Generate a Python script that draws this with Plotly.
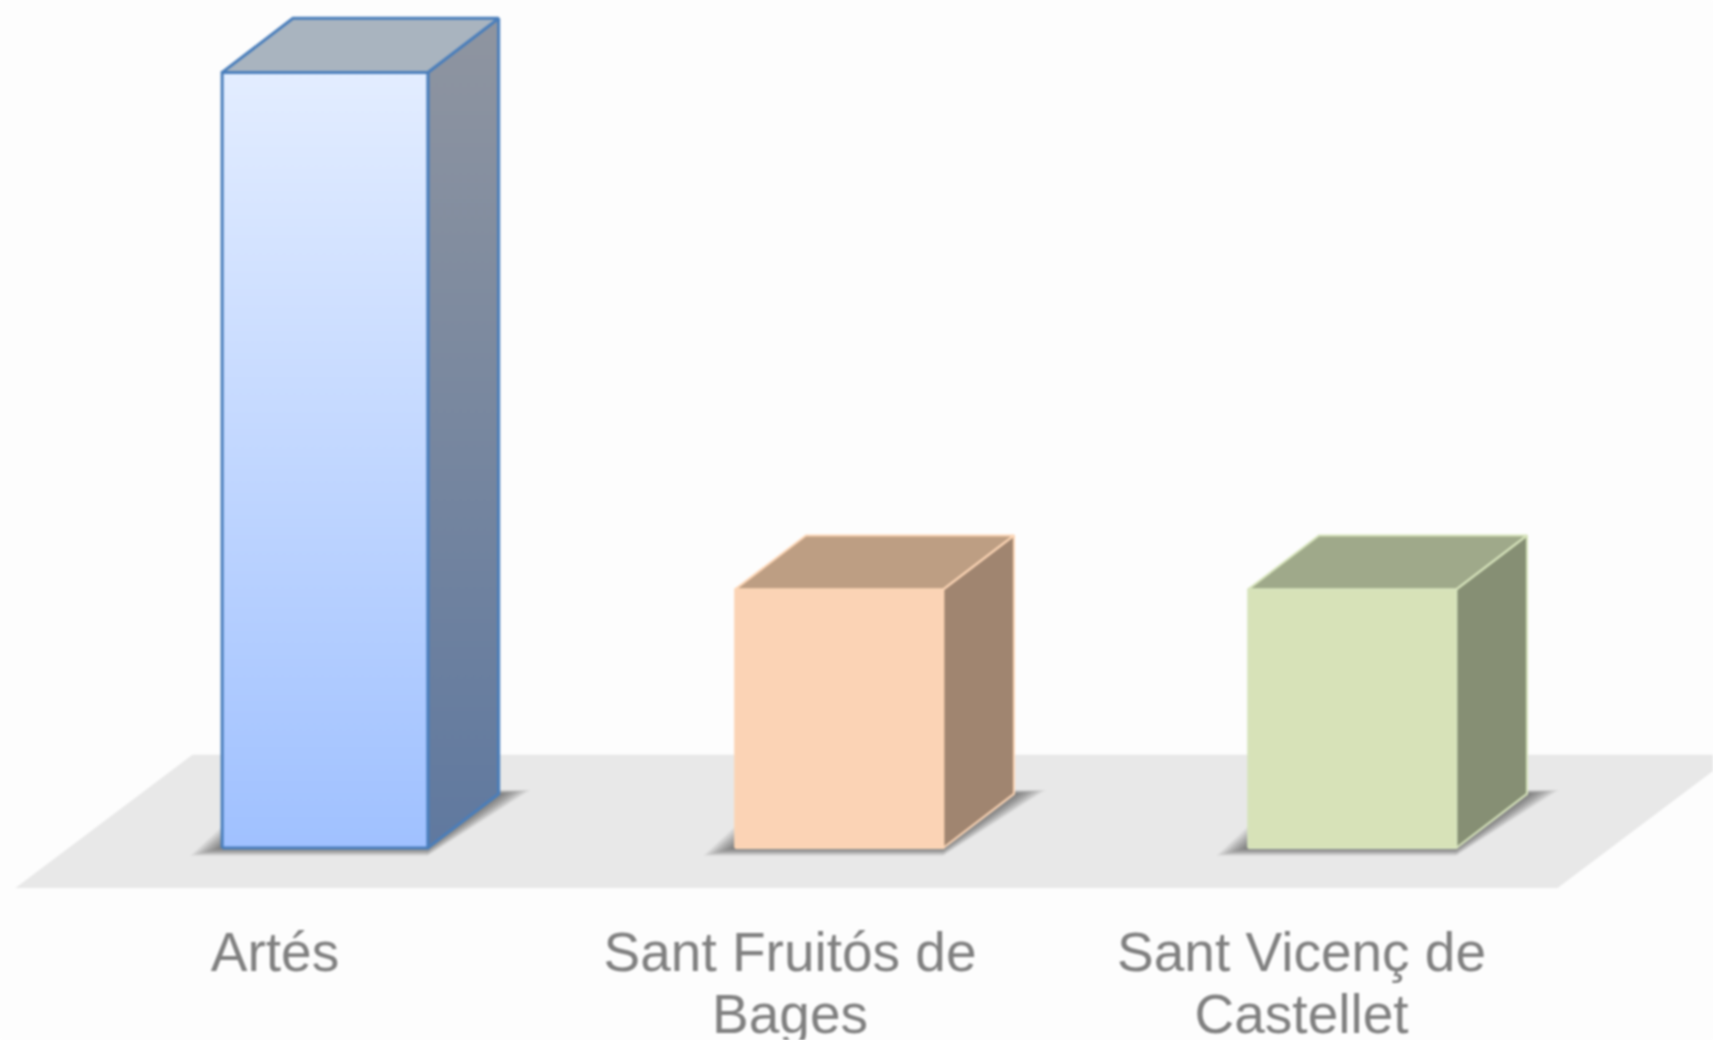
import plotly.graph_objects as go

# --- data ---
categories = ["Artés", "Sant Fruitós de Bages", "Sant Vicenç de Castellet"]
label_line1 = ["Artés", "Sant Fruitós de", "Sant Vicenç de"]
label_line2 = ["", "Bages", "Castellet"]
values = [3, 1, 1]

# --- styles ---
front_top = ["#E3EDFF", "#FBD3B5", "#D7E2B8"]
front_bottom = ["#A0C1FF", "#FBD3B5", "#D7E2B8"]
side_top = ["#8F95A0", "#A08570", "#868F74"]
side_bottom = ["#60799F", "#A08570", "#868F74"]
top_face = ["#A9B4BF", "#BD9E83", "#9FA98A"]
edge = ["#4A7EBB", "#FCD5B5", "#D7E4BC"]
edge_w = [3, 2, 2]
TEXT = "#808080"
BG = "#FDFDFD"
FLOOR = "#E8E8E8"

# geometry in axis units
X_LEFT = -0.103                     # front face relative to category position
BAR_W = [0.401, 0.4055, 0.4055]
DX, DY = 0.138, 0.209               # depth offset of bars
FLOOR_X0, FLOOR_X1 = -0.506, 2.5
FLOOR_Y0, FLOOR_DX, FLOOR_Y1 = -0.155, 0.345, 0.36
X_RANGE = [-0.536, 2.803]
Y_RANGE = [-0.155, 3.28]
LABEL_NUDGE = [0.0, 0.004, 0.001]

fig = go.Figure()


def poly(xs, ys, **kw):
    fig.add_trace(go.Scatter(x=xs + xs[:1], y=ys + ys[:1], mode="lines", fill="toself",
                             hoverinfo="skip", showlegend=False, **kw))


# floor
poly([FLOOR_X0, FLOOR_X1, FLOOR_X1 + FLOOR_DX, FLOOR_X0 + FLOOR_DX],
     [FLOOR_Y0, FLOOR_Y0, FLOOR_Y1, FLOOR_Y1],
     fillcolor=FLOOR, line=dict(width=0))

# soft shadows: stacked translucent layers
LAYERS = 12
for i, v in enumerate(values):
    l, r = i + X_LEFT, i + X_LEFT + BAR_W[i]
    for k in range(LAYERS):
        t = 1 - k / LAYERS
        ex, ey = 0.062 * t, 0.030 * t
        poly([l - ex, r, r + DX + ex, l + DX - ex],
             [-ey, -ey, DY + ey * 0.5, DY + ey * 0.5],
             fillcolor="rgba(40,40,40,0.06)", line=dict(width=0))

# bars
for i, v in enumerate(values):
    l, r = i + X_LEFT, i + X_LEFT + BAR_W[i]
    line = dict(color=edge[i], width=edge_w[i])
    # right side
    poly([r, r + DX, r + DX, r], [0, DY, v + DY, v], line=line,
         fillgradient=dict(type="vertical", start=0, stop=v + DY,
                           colorscale=[[0, side_bottom[i]], [1, side_top[i]]]))
    # top
    poly([l, r, r + DX, l + DX], [v, v, v + DY, v + DY], line=line, fillcolor=top_face[i])
    # front
    poly([l, r, r, l], [0, 0, v, v], line=line,
         fillgradient=dict(type="vertical", start=0, stop=v,
                           colorscale=[[0, front_bottom[i]], [1, front_top[i]]]))

tick_font = dict(family="Liberation Sans, Arial, sans-serif", size=55, color=TEXT)
idx = [i + n for i, n in enumerate(LABEL_NUDGE)]

# carrier so that the second-line axis is drawn
fig.add_trace(go.Scatter(x=idx, y=values, xaxis="x2", mode="markers",
                         marker=dict(size=1, opacity=0), hoverinfo="skip", showlegend=False))

fig.update_layout(
    width=1713, height=1040, autosize=False,
    margin=dict(l=0, r=0, t=0, b=1040 - 888, pad=0),
    paper_bgcolor=BG, plot_bgcolor=BG, showlegend=False,
    xaxis=dict(range=X_RANGE, showgrid=False, zeroline=False, showline=False, automargin=False,
               tickmode="array", tickvals=idx, ticktext=label_line1,
               ticks="outside", ticklen=16, tickcolor="rgba(0,0,0,0)", tickangle=0,
               tickfont=tick_font, fixedrange=True),
    xaxis2=dict(range=X_RANGE, overlaying="x", side="bottom", anchor="y", automargin=False,
                showgrid=False, zeroline=False, showline=False,
                tickmode="array", tickvals=idx, ticktext=label_line2,
                ticks="outside", ticklen=78, tickcolor="rgba(0,0,0,0)", tickangle=0,
                tickfont=tick_font, fixedrange=True),
    yaxis=dict(range=Y_RANGE, showgrid=False, zeroline=False, showline=False, automargin=False,
               showticklabels=False, ticks="", fixedrange=True),
)

post = """
document.body.style.margin='0';
document.body.style.background='#FDFDFD';
document.documentElement.style.overflow='hidden';
var g=document.querySelector('.js-plotly-plot');
if(g){g.style.filter='blur(0.8px)';}
"""
fig.write_html("out.html", config={"displayModeBar": False}, post_script=post)
